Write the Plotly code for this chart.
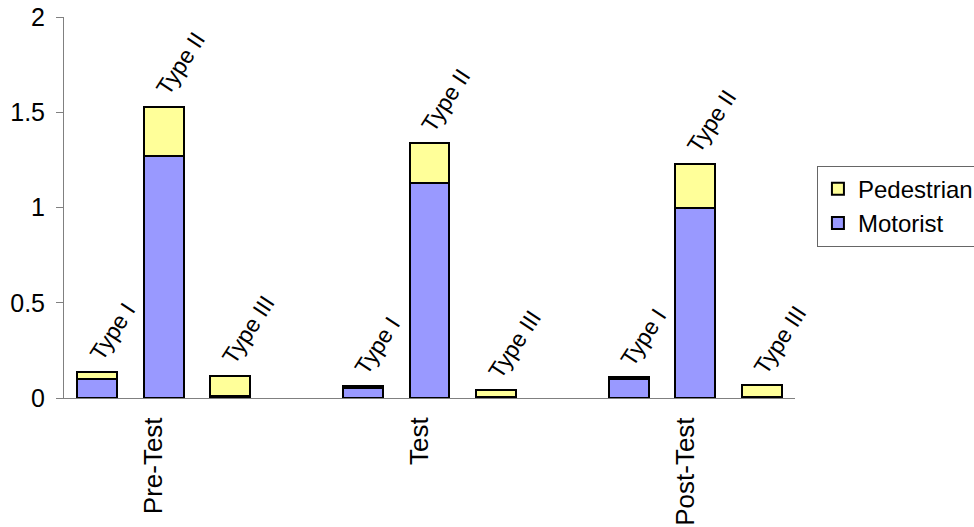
import plotly.graph_objects as go

groups = ["Pre-Test", "Test", "Post-Test"]
types = ["Type I", "Type II", "Type III"]
motorist = [[0.10, 1.27, 0.010], [0.055, 1.13, 0.005], [0.10, 1.00, 0.003]]
pedestrian = [[0.037, 0.26, 0.108], [0.010, 0.21, 0.037], [0.008, 0.23, 0.065]]
yticks = [0, 0.5, 1, 1.5, 2]

FONT = "Arial, 'Liberation Sans', sans-serif"

# slot positions: three bars per group, one empty slot between groups
xs, mot, ped, labels, tops = [], [], [], [], []
for gi, g in enumerate(groups):
    for ti, t in enumerate(types):
        xs.append(gi * 4 + ti)
        mot.append(motorist[gi][ti])
        ped.append(pedestrian[gi][ti])
        labels.append(t)
        tops.append(motorist[gi][ti] + pedestrian[gi][ti])
group_centers = [gi * 4 + 1 for gi in range(len(groups))]

fig = go.Figure()
fig.add_trace(go.Bar(x=xs, y=mot, name="Motorist", width=0.6,
                     marker=dict(color="#9999FF", line=dict(color="black", width=2))))
fig.add_trace(go.Bar(x=xs, y=ped, name="Pedestrian", width=0.6,
                     marker=dict(color="#FFFF99", line=dict(color="black", width=2))))

for x, y, t in zip(xs, tops, labels):
    fig.add_annotation(x=x, y=y, text=t, showarrow=False, textangle=-57,
                       xanchor="left", yanchor="bottom", xshift=-16, yshift=4,
                       font=dict(family=FONT, size=23, color="black"))

fig.update_layout(
    barmode="stack",
    width=974, height=527,
    margin=dict(l=64, r=179, t=17, b=129, autoexpand=False),
    plot_bgcolor="white", paper_bgcolor="white",
    showlegend=True,
    legend=dict(traceorder="reversed", x=1.030, xanchor="left", y=0.61, yanchor="top",
                bordercolor="#666666", borderwidth=1, bgcolor="white",
                font=dict(family=FONT, size=24, color="black")),
    xaxis=dict(range=[-0.5, 10.5], tickvals=group_centers, ticktext=groups,
               tickangle=-90, ticks="", showgrid=False, zeroline=False,
               showline=True, linecolor="#808080", linewidth=1,
               ticklabelstandoff=8, ticklabelshift=-10,
               tickfont=dict(family=FONT, size=26, color="black")),
    yaxis=dict(range=[0, 2], tickvals=yticks, ticktext=[f"{v:g}" for v in yticks],
               ticks="outside", ticklen=7, tickcolor="#808080",
               ticklabelstandoff=6,
               showgrid=False, zeroline=False, showline=True, linecolor="#808080", linewidth=1,
               tickfont=dict(family=FONT, size=25, color="black")),
)

fig.write_html("out.html")
